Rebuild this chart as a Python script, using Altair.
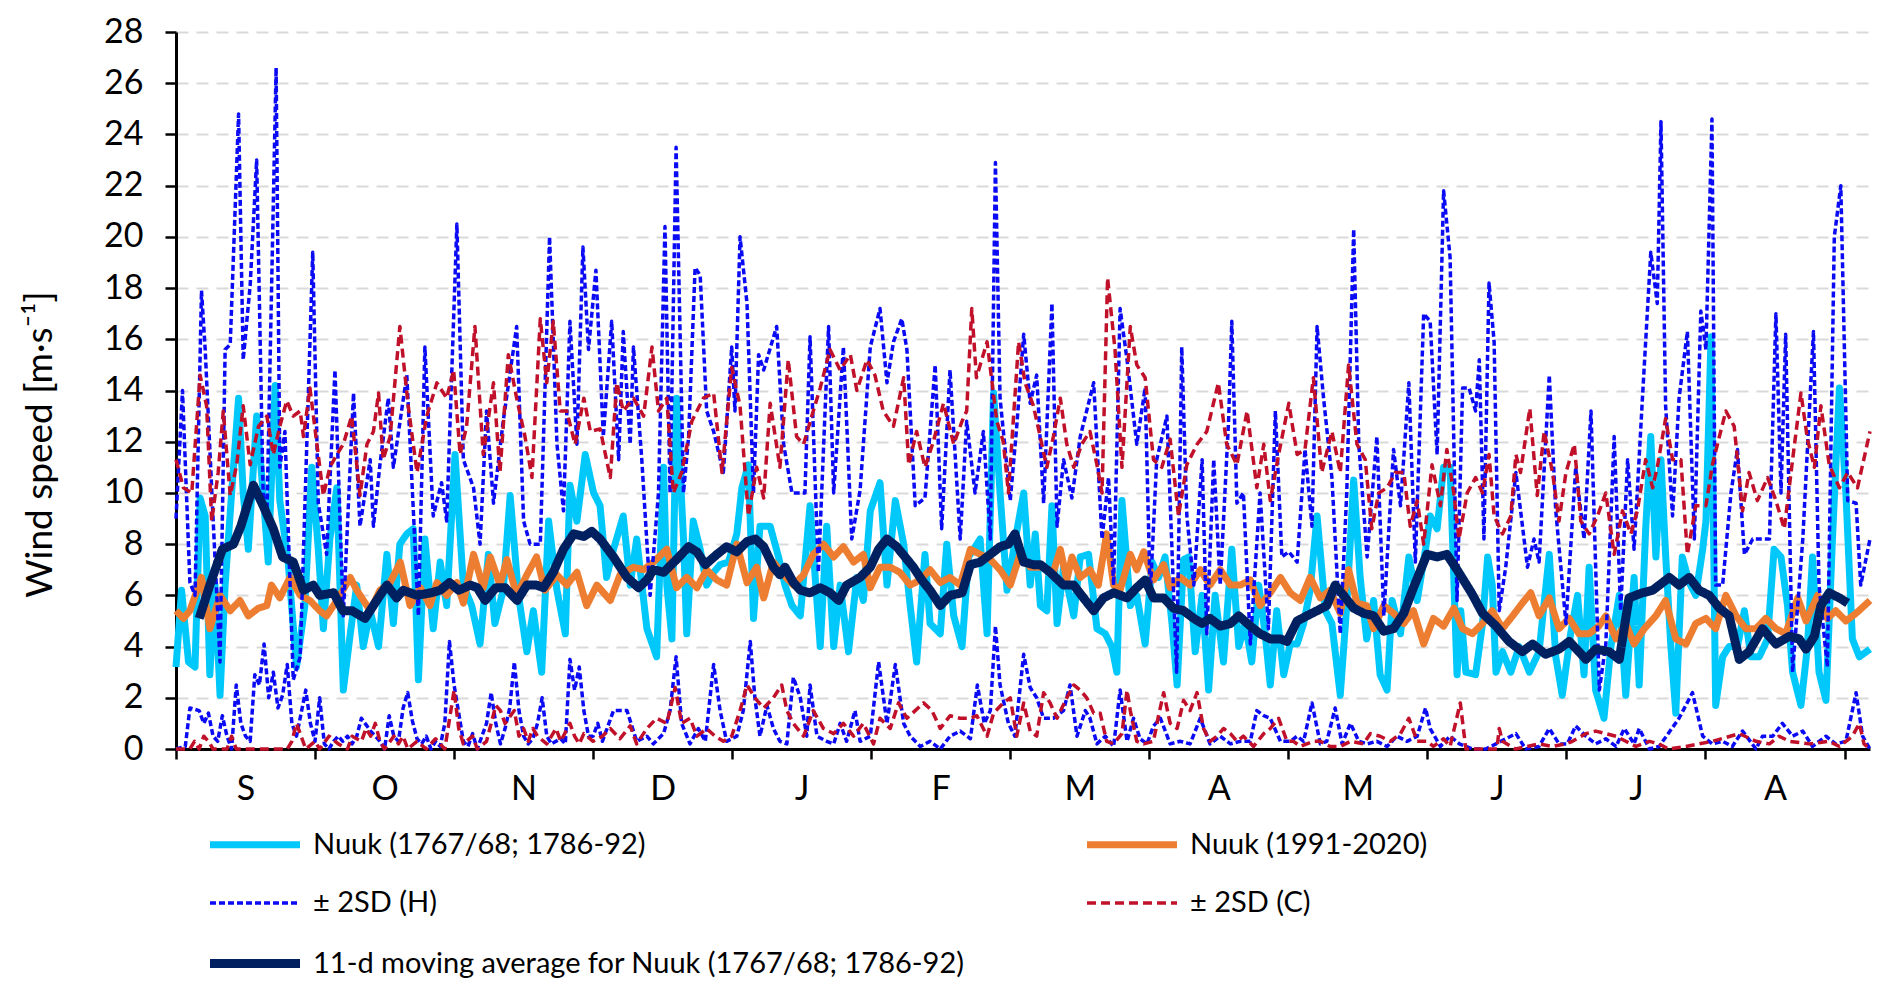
import altair as alt
import pandas as pd

SERIES = ["Nuuk (1767/68; 1786-92)", "Nuuk (1991-2020)", "± 2SD (H)", "± 2SD (C)",
          "11-d moving average for Nuuk (1767/68; 1786-92)"]
COLORS = ["#00C8FA", "#ED7D31", "#0A0AF5", "#C0102A", "#002060"]
DASHES = [[1, 0], [1, 0], [6, 3], [9, 5], [1, 0]]
WIDTHS = [7, 7, 3.5, 3.5, 9]
LEGEND_ORDER = [0, 2, 4, 1, 3]   # two columns, filled column by column
MONTHS = ["S", "O", "N", "D", "J", "F", "M", "A", "M", "J", "J", "A"]
Y_TICKS = list(range(0, 29, 2))
X_TICKS = list(range(0, 361, 15))

# Nuuk (1767/68; 1786-92): (day, wind speed)
HIST = [(0,3.2),(1.2,6.2),(2.7,3.4),(4.1,3.2),(5.2,9.8),(6.3,9.1),(7.3,2.9),(8.4,6.4),(9.5,2.1),(10.6,6.4),
        (12,10.0),(13.5,13.7),(14.5,10.0),(15.6,7.8),(17.4,13.0),(18.8,10.0),(19.9,7.3),(21.4,14.2),(22.4,9.7),
        (24.2,7.3),(26,3.2),(27.8,5.6),(29.3,11.0),(30.7,7.8),(31.8,4.7),(33.2,8.2),(34.7,10.2),(36.1,2.3),
        (37.6,4.5),(39,6.4),(40.4,4.0),(41.9,5.4),(43.7,4.0),(45.5,7.6),(46.9,4.9),(48.3,8.0),(49.8,8.4),
        (51.2,8.6),(52.3,2.7),(53.7,8.2),(55.5,4.7),(57,7.3),(58.4,5.6),(60.2,11.5),(62,6.4),(63.8,5.6),
        (65.6,4.1),(67.4,7.6),(68.8,4.9),(70.6,6.2),(72.1,9.9),(73.9,6.0),(75.7,3.8),(77.1,5.4),(78.9,3.0),
        (80.4,8.9),(82.2,6.2),(84,4.5),(85,10.3),(86.5,8.9),(88.3,11.5),(90.1,10.0),(91.5,9.5),(92.9,6.7),
        (94.4,7.8),(96.5,9.1),(98,6.4),(99.4,8.2),(101.6,4.7),(103.7,3.6),(105.2,11.0),(105.9,6.4),(107,4.3),
        (108,13.7),(109.5,8.2),(110.2,4.5),(111.6,8.9),(113.1,7.8),(114.5,6.4),(116,6.9),(117.4,7.2),(119.2,7.3),
        (121,8.4),(122.1,10.2),(123.5,11.1),(124.6,5.1),(126,8.7),(128.2,8.7),(130,7.5),(131.4,6.4),(132.9,5.6),
        (134.7,5.2),(136.8,9.5),(139,4.0),(140.4,8.7),(141.9,4.0),(143.3,6.4),(145.1,3.8),(146.9,6.7),(148.3,5.8),
        (149.8,9.3),(151.9,10.4),(153.4,6.4),(155.2,9.7),(157,8.0),(158.4,5.6),(159.8,3.4),(161.6,7.6),(162.7,4.9),
        (164.9,4.5),(166.3,8.0),(167.8,5.2),(169.6,4.0),(171,7.5),(173.5,8.2),(175,4.5),(176.4,13.9),(177.8,10.0),
        (179.3,6.2),(181.1,8.2),(182.9,10.0),(184.3,6.4),(185.4,8.4),(186.5,5.6),(187.9,5.4),(189,9.5),(190.1,4.9),
        (191.5,7.1),(193.7,5.2),(195.1,7.5),(196.9,7.6),(198.7,4.7),(200.5,4.5),(201.9,4.0),(203,3.0),(204.1,9.7),
        (205.9,5.6),(207.3,6.0),(209.1,4.1),(210.6,7.3),(212,6.7),(213.4,7.5),(214.9,4.9),(216,2.5),(217.4,7.4),
        (218.5,7.5),(219.9,3.8),(221.4,6.0),(222.8,2.3),(224.2,6.0),(226,3.4),(227.8,7.8),(229.3,4.0),(230.7,4.9),
        (232.1,3.4),(233.6,6.4),(235,4.5),(236.1,2.5),(237.5,5.4),(239,2.9),(240.4,4.1),(241.9,4.1),(243.3,4.9),
        (244.7,6.2),(246.2,9.1),(248,5.4),(249.4,4.9),(251.2,2.1),(252.6,5.6),(254.1,10.5),(255.5,6.7),(256.9,4.3),
        (258.4,5.8),(259.8,2.9),(261.3,2.3),(262.4,5.8),(264.2,4.5),(266,7.5),(267.8,5.8),(269.6,7.8),(270.6,9.1),
        (272.1,8.6),(273.5,11.0),(274.9,11.0),(276.4,2.9),(277.2,5.4),(278.3,3.0),(280.4,2.9),(281.9,4.9),(283,7.5),
        (284,6.4),(284.8,3.0),(286.2,3.8),(288,3.0),(289.8,4.0),(292,3.0),(294.1,3.8),(296.3,7.6),(297.7,3.6),
        (299.1,2.1),(300.9,4.5),(302.4,6.0),(303.8,2.9),(304.9,7.1),(306.3,2.3),(308.1,1.2),(309.6,4.0),(311.4,6.0),
        (312.8,2.1),(314.6,6.7),(315.7,2.5),(317.1,8.6),(318.2,12.2),(319.3,7.5),(320.4,11.3),(321.4,7.6),(322.5,4.1),
        (323.6,1.4),(325,7.5),(326.5,6.5),(327.9,6.0),(329.4,7.8),(330.1,8.9),(331.2,16.1),(332.2,1.7),(333.7,3.6),
        (335.1,4.0),(336.9,4.0),(338.4,5.4),(339.8,3.6),(341.6,3.6),(343.4,4.3),(344.8,7.8),(346.3,7.5),(347.7,5.6),
        (348.8,3.0),(350.6,1.7),(352,4.0),(353.1,7.5),(354.5,3.0),(356,1.9),(357.4,8.2),(358.9,14.1),(360.3,10.0),
        (361.7,4.3),(363.2,3.6),(365.5,3.9)]

# Nuuk (1991-2020)
MODERN = [(0,5.4),(1.6,5.1),(3,5.4),(5.5,6.7),(7.3,4.7),(9.5,6.0),(11.7,5.4),(13.8,5.8),(15.6,5.2),(17.8,5.5),
          (19.6,5.6),(20.6,6.4),(22.4,5.9),(24.6,6.7),(26.8,6.0),(28.9,5.8),(31,5.4),(32.5,5.2),(34.7,5.8),
          (37.6,6.7),(39,6.2),(41.9,5.4),(44,6.2),(46.2,6.5),(48.4,7.3),(50.5,5.6),(52.7,6.3),(54.8,5.6),(56.3,6.5),
          (58.4,6.0),(60.6,6.5),(62,5.7),(64.2,7.6),(66.3,6.3),(67.8,7.5),(69.9,6.4),(71.4,7.4),(73.5,6.0),(75.7,6.8),
          (77.8,7.5),(79.6,6.2),(82.2,6.8),(84.3,6.4),(86.5,6.9),(88.6,5.6),(90.8,6.4),(93.7,5.8),(95.8,6.8),
          (98.7,7.1),(100.9,7.0),(103,7.3),(105.9,7.8),(108,6.3),(110.2,6.7),(112.4,6.3),(114.5,7.0),(116.7,6.6),
          (118.8,6.4),(121,8.0),(123.2,6.5),(125.3,7.1),(126.8,5.9),(128.9,7.3),(131.1,6.8),(133.2,6.4),(135.4,6.8),
          (137.5,7.6),(139.7,8.0),(141.9,7.5),(144,7.9),(146.2,7.3),(148.3,7.6),(149.8,6.3),(151.9,7.1),(154.1,7.1),
          (156.2,6.9),(158.4,6.4),(160.6,6.6),(162.7,7.0),(164.9,6.5),(167,6.7),(169.2,6.4),(171.4,7.8),(173.5,7.6),
          (175.7,7.4),(177.8,7.0),(180,6.4),(182.1,7.6),(184.3,7.1),(187.2,7.1),(189.3,6.9),(190.8,7.8),(192.2,6.6),
          (193.3,7.5),(195.1,6.7),(197.2,7.0),(199,6.4),(200.8,8.4),(202.3,6.4),(203.7,6.2),(205.9,7.6),(207.3,7.0),
          (208.8,7.7),(210.9,6.6),(213.1,7.2),(214.5,6.3),(216.7,6.7),(218.8,6.4),(221,7.0),(223.1,6.4),(225.3,7.0),
          (227.5,6.4),(229.6,6.4),(231.8,6.6),(233.9,5.6),(236.1,6.1),(238.3,6.7),(240.4,6.1),(242.6,5.8),(244.7,6.7),
          (246.9,5.9),(249,6.2),(251.2,5.3),(253,7.0),(254.8,5.7),(256.9,5.6),(258.4,4.7),(260.6,5.6),(262.7,5.3),
          (264.9,4.9),(267,5.4),(269.2,4.1),(271.3,5.1),(273.5,4.8),(275.7,5.5),(277.6,4.7),(279.7,4.5),(281.9,4.9),
          (284,5.4),(286.2,4.7),(288.4,5.2),(290.5,5.7),(292.3,6.1),(294.1,5.2),(296.3,5.9),(298.4,4.7),(300.6,5.1),
          (302.7,4.5),(304.9,4.5),(307,4.8),(308.5,5.2),(310.7,4.3),(312.8,4.9),(314.6,4.1),(316.8,4.7),(319.3,5.2),
          (321.4,5.8),(323.6,4.3),(325.8,4.1),(327.9,4.9),(330.1,5.1),(332.2,4.7),(334.4,6.0),(336.6,5.2),(338.7,4.7),
          (340.9,4.7),(343,5.1),(345.2,4.7),(347.3,4.5),(349.9,5.9),(351.7,5.0),(354.2,6.0),(356.3,5.1),(358.1,5.4),
          (360.3,5.0),(362.5,5.3),(365.5,5.8)]

# 11-d moving average for Nuuk (1767/68; 1786-92)
MOVAVG = [(5,5.1),(7.3,6.4),(10,7.8),(12.4,8.0),(14,8.7),(16.7,10.3),(18.8,9.5),(21,8.6),(23,7.5),(25.3,7.3),
          (27.5,6.2),(29.6,6.4),(31,6.0),(34,6.1),(36,5.4),(38,5.4),(40.8,5.1),(43.3,5.8),(45.5,6.4),(47.6,5.9),
          (49,6.2),(52,6.0),(55,6.1),(57,6.2),(59,6.5),(61,6.2),(63.5,6.4),(65,6.3),(66.7,5.8),(69,6.3),(71,6.3),
          (73.6,5.8),(75.7,6.4),(77.8,6.4),(79.3,6.3),(81.4,6.9),(83.6,7.8),(85.8,8.4),(88,8.3),(89.7,8.5),(91.5,8.2),
          (94.4,7.5),(97.3,6.7),(99.8,6.3),(101.6,6.6),(103,7.0),(105.2,6.9),(108,7.4),(110.6,7.9),(112.4,7.7),
          (114.2,7.2),(116.7,7.6),(118.8,7.9),(121,7.7),(123.2,8.1),(125,8.2),(126.8,7.9),(128.9,7.1),(130.3,6.8),
          (131.4,7.1),(133.2,6.5),(134.7,6.2),(136.8,6.1),(139,6.3),(141.1,6.1),(143,5.8),(144.7,6.4),(147.6,6.7),
          (149.8,7.1),(151.6,7.8),(153.4,8.2),(155.5,7.9),(157.3,7.5),(159.1,7.1),(160.9,6.6),(162.7,6.2),(164.9,5.6),
          (167,6.0),(169.6,6.1),(171.4,7.2),(173.5,7.3),(175.7,7.6),(177.8,7.9),(179.6,8.0),(181,8.4),(182.9,7.3),
          (185,7.2),(186.5,7.2),(188.6,6.9),(191.5,6.4),(193.7,6.4),(195.8,5.9),(198,5.4),(200.1,5.9),(202.3,6.1),
          (205.2,5.9),(207.3,6.3),(209.1,6.6),(210.9,5.9),(213.1,5.9),(215.2,5.5),(217.4,5.4),(219.6,5.1),(221.4,4.9),
          (223.1,5.1),(225.3,4.8),(227.5,4.9),(229.3,5.2),(231.8,4.8),(233.9,4.5),(236.1,4.3),(238.3,4.3),(239.7,4.2),
          (241.9,5.0),(244,5.2),(246.2,5.4),(248.3,5.6),(250.1,6.4),(251.9,6.0),(254.1,5.5),(256.2,5.3),(258.4,5.2),
          (260.6,4.6),(262.7,4.7),(264.9,5.3),(267,6.3),(269.9,7.6),(272.1,7.5),(274.2,7.6),(276.4,7.0),(279.5,6.1),
          (281.9,5.3),(284.8,4.8),(287.6,4.2),(290.5,3.8),(292.7,4.1),(295.5,3.7),(298.4,3.9),(300.6,4.2),(302.7,3.8),
          (304.2,3.5),(306.3,3.9),(309.2,3.8),(311.4,3.5),(313.5,5.9),(316.4,6.1),(318.6,6.2),(322.2,6.7),(324.3,6.4),
          (326.5,6.7),(328.6,6.2),(330.8,6.0),(333,5.5),(335.1,5.2),(337.3,3.5),(339.4,3.8),(342.3,4.7),(345.2,4.1),
          (348.1,4.4),(350.2,4.3),(351.7,3.9),(353.5,4.4),(354.9,5.6),(356.7,6.1),(358.9,5.9),(360.7,5.7)]

# ± 2SD (H): upper and lower envelopes
H_UPPER = [(0,9.0),(1.4,14.0),(3,6.5),(4.1,6.0),(5.5,17.9),(6.3,15.6),(8,9.0),(9.5,3.4),(10.6,15.6),(11.7,15.8),
           (13.5,24.8),(14.5,15.2),(16,18.1),(17.4,23.0),(18.8,10.0),(19.6,9.0),(21.6,26.6),(22.4,11.0),(23.5,12.4),
           (25.3,2.7),(26.8,3.6),(29.5,19.4),(30.7,9.6),(32.5,7.6),(34.3,14.8),(36.1,5.2),(38.3,13.9),(39.7,8.7),
           (41.9,11.3),(42.6,8.7),(44,11.1),(45.8,13.7),(46.9,11.0),(49.8,14.6),(52.3,5.2),(53.7,15.7),(55.5,9.1),
           (57.3,10.4),(58.4,8.9),(60.6,20.5),(62,11.3),(64.2,10.2),(65.6,8.0),(67,13.2),(68.5,9.6),(70.6,12.8),
           (73.5,16.5),(75,8.9),(76.4,8.0),(78.6,8.0),(80.6,20.0),(82.2,11.9),(83.6,9.3),(85,16.7),(86.5,11.9),
           (87.8,19.6),(89,15.6),(90.6,18.7),(92.2,12.2),(94,16.7),(95.5,11.3),(96.5,16.3),(98,11.9),(98.7,15.7),
           (100.5,11.3),(102.3,6.0),(104.1,10.0),(105.5,20.4),(106.6,10.0),(107.9,23.5),(109.5,10.0),(110.6,12.2),
           (112,18.8),(113.1,18.5),(114.5,13.2),(116,12.4),(118.1,10.8),(119.9,15.7),(120.6,13.2),(121.7,20.0),
           (123.2,17.4),(124.6,10.0),(125.7,15.4),(126.8,14.8),(129.6,16.5),(131.1,11.9),(132.9,10.0),(135.7,10.0),
           (136.8,16.1),(138.6,6.9),(140.8,16.5),(141.9,10.0),(144,15.7),(145.8,8.2),(147.6,10.1),(149.8,15.7),
           (151.9,17.2),(153.4,14.3),(154.8,15.9),(156.6,16.8),(157.7,15.6),(159.5,9.5),(161.6,9.8),(163.8,15.0),
           (165.2,8.6),(167,14.8),(169.2,8.2),(170.6,12.8),(172.4,10.0),(174.2,12.4),(175.7,8.2),(176.8,22.9),
           (177.8,13.7),(180,9.7),(181.4,12.6),(182.9,16.2),(184.3,13.5),(185.7,14.6),(187.2,9.6),(189,17.4),
           (190.1,8.7),(191.5,11.3),(193.3,9.8),(195.1,12.2),(198,14.3),(199.8,8.2),(201.2,10.6),(202.3,6.4),
           (203.7,17.2),(205.2,15.2),(207.3,11.9),(209.1,14.1),(210.2,6.0),(211.6,11.3),(213.8,13.0),(215.9,3.0),
           (217,15.7),(218.1,9.1),(219.6,6.4),(221.4,11.3),(222.4,4.5),(223.9,11.3),(225.3,6.4),(227.1,12.8),
           (227.8,16.7),(228.9,9.6),(230.3,10.0),(231.8,4.1),(233.9,10.0),(235.7,4.7),(237.2,13.2),(238.6,7.5),
           (240.1,7.7),(241.9,7.3),(243.6,11.7),(245.1,8.7),(246.2,16.5),(247.6,13.7),(249.4,10.6),(251.2,4.5),
           (252.6,10.0),(254.1,20.3),(255.2,11.9),(257,7.5),(259.1,12.2),(260.6,5.2),(262.7,11.7),(264.2,9.5),
           (266,14.3),(267.4,7.3),(269.2,17.0),(270.6,16.7),(272.1,11.5),(273.5,21.8),(274.9,19.2),(276.4,5.8),
           (277.6,14.1),(279,14.1),(280.4,13.2),(281.2,15.2),(282.2,8.2),(283.3,18.2),(284.4,15.9),(285.5,5.4),
           (286.9,7.1),(289.1,10.8),(291.6,7.1),(293,8.2),(294.1,7.3),(296.3,14.6),(297.7,9.3),(299.9,4.9),(302,11.0),
           (303.8,8.2),(305.3,13.2),(307.1,2.3),(308.5,4.1),(310.3,12.2),(311.7,5.4),(313.2,11.3),(314.6,7.8),
           (316.4,13.7),(318.2,19.4),(319.6,17.4),(320.4,24.5),(321.4,13.4),(322.9,9.1),(324.3,13.7),(326.1,16.3),
           (327.6,8.2),(329,17.1),(330.1,15.6),(331.4,24.6),(332.2,6.4),(333.7,6.4),(335.5,10.0),(336.9,11.7),
           (338.4,7.6),(340.2,8.2),(342.3,8.2),(343.8,8.2),(345.2,17.0),(346.3,10.0),(347.3,16.2),(348.8,3.0),
           (351,8.2),(353.3,16.3),(354.5,6.4),(356.3,3.2),(357.8,20.0),(359.2,22.0),(360.7,9.7),(362.5,9.6),
           (363.5,6.4),(365.5,8.2)]
H_LOWER = [(0,0),(2,0.1),(3,1.6),(5,1.5),(6,1.0),(7,1.4),(8,0.5),(9,0.3),(10,1.3),(11,0.5),(12,0),(13,2.5),
           (14,1.0),(15,0.5),(16,0.3),(17,2.9),(18,2.5),(19,4.1),(20,2.0),(21,3.0),(22,1.6),(23,2.1),(24,3.3),
           (25,1.0),(26,0.5),(28,2.3),(29,1.0),(30,0.3),(31,2.0),(32,0.2),(33,0),(34,0.3),(35,0.5),(36,0.3),(37,0.5),
           (38,0.2),(39,0.5),(40,1.2),(42,0.7),(44,0.3),(45,0),(46,1.3),(47,0.5),(48,0.3),(49,1.6),(50,2.2),(51,1.1),
           (52,0.4),(53,0.2),(54,0.5),(55,0),(56,0.3),(57,0.1),(58,1.0),(59,4.2),(60,2.5),(61,1.4),(62,0.3),(63,0.1),
           (64,0.6),(65,0),(66,0.5),(67,1.0),(68,2.2),(69,1.0),(70,0.2),(71,0.8),(72,1.6),(73,3.4),(74,1.5),(75,0.5),
           (76,0.2),(77,0.4),(78,1.0),(79,2.0),(80,0.5),(81,0.2),(82,0.3),(83,0.4),(84,0.2),(85,3.5),(86,2.3),
           (87,3.2),(88,1.5),(89,0.5),(90,0.5),(91,1.0),(92,0.3),(94.4,1.5),(97.3,1.5),(99.4,0.3),(101.6,0.5),
           (103,0.2),(105.2,0.6),(106.6,1.5),(107.9,3.6),(109.1,1.0),(110.9,0.2),(112.7,0.8),(114.2,0.3),(116,3.3),
           (117.4,1.5),(118.8,0.3),(121,0.5),(122.4,1.5),(123.9,4.2),(124.9,2.0),(126,0.5),(127.5,1.7),(128.9,0.8),
           (130.3,0.3),(131.8,0.2),(133.2,2.8),(134.7,2.0),(136.1,0.5),(136.8,2.5),(138.3,0.5),(140.4,0.3),
           (141.9,0.2),(143.3,1.0),(144.7,0.3),(146.5,1.5),(147.6,0.3),(149.8,0.5),(151.6,3.4),(153.4,1.0),
           (155.2,3.3),(157,1.0),(158.4,0.5),(160.6,0.1),(162.7,0.3),(164.9,0),(167,0.5),(169.2,0.7),(171.4,0.4),
           (172.9,2.5),(174.4,1.0),(175.7,1.5),(176.8,4.8),(177.8,2.5),(179.6,1.0),(181,0.5),(182.9,3.7),(184.3,2.4),
           (185.7,2.0),(187.2,1.2),(189.3,1.2),(191.5,1.5),(192.9,2.5),(194.4,0.5),(196.2,1.5),(197.2,1.2),
           (198.7,0.2),(200.5,0.5),(202.3,0.1),(203.7,2.3),(205.2,0.3),(206.6,1.2),(208,0.4),(209.5,0.2),(210.9,0.9),
           (212.4,1.2),(214.5,0.2),(216.7,0.3),(218.8,0.2),(221,1.2),(223.1,0.2),(225.3,0.5),(227.5,0.2),(229.6,0.3),
           (231.8,0.3),(233.2,1.5),(234.7,1.3),(236.1,1.2),(238.3,0.3),(240.4,0.3),(241.9,0.5),(243.3,0.3),
           (245.1,1.8),(246.9,0.2),(248.3,0.3),(250.1,1.6),(251.6,0.2),(253.4,1.0),(255.2,0.3),(257,0.2),(259.1,0.3),
           (261.3,0.1),(263.4,0.5),(265.6,0.3),(267.8,0.5),(269.6,1.6),(270.6,0.8),(272.8,0.1),(274.9,0.5),
           (276.9,0.2),(279.7,0),(282.6,0),(284.8,0.2),(289.1,0.6),(291.2,0),(294.1,0.1),(296.3,0.8),(298.4,0.2),
           (300.2,0.2),(302,0.9),(304.2,0.5),(306.3,0.2),(308.5,0.4),(310.7,0.1),(312.5,0.8),(314.6,0.2),(315.7,0.8),
           (317.9,0),(320,0.1),(324.3,1.2),(327.2,2.2),(329.4,0.5),(331.5,0.2),(333.7,0.3),(335.8,0.1),(338,0.7),
           (340.9,0),(342.3,0.5),(344.5,0.5),(346.6,1.0),(348.8,0.5),(351,0.7),(353.1,0.1),(356,0.5),(358.1,0.2),
           (360.3,0.3),(362.5,2.2),(363.9,0.5),(365.5,0)]

# ± 2SD (C): upper and lower envelopes
C_UPPER = [(0,11.3),(1.6,10.2),(3.4,10.0),(5.2,14.6),(6.6,13.4),(7.7,8.9),(9.1,10.8),(10.2,13.2),(11.7,9.9),
           (13.1,11.1),(14.5,13.4),(16,11.1),(17.8,12.6),(19.6,13.0),(21,11.5),(22.4,12.6),(23.9,13.6),(25.3,13.0),
           (26.8,13.2),(27.5,12.2),(28.9,14.1),(30.4,11.9),(31.8,9.9),(33.2,11.0),(34.7,11.5),(36.1,11.9),(37.9,13.0),
           (39.7,9.9),(41.2,11.9),(42.6,12.4),(43.7,13.9),(44.7,11.3),(46.2,12.2),(48.3,16.5),(50.1,13.4),(52,10.8),
           (54.1,13.0),(56.3,14.3),(58.4,13.7),(59.9,14.8),(61.3,11.5),(62.7,12.6),(64.5,16.5),(66.3,11.5),(68.5,14.3),
           (69.9,10.8),(71.7,15.4),(73.5,13.7),(75.3,12.2),(76.8,10.6),(78.6,16.8),(80,14.3),(81.4,16.7),(82.9,13.2),
           (84.3,13.2),(86.1,11.9),(88,13.7),(89.4,12.4),(91.5,12.5),(93.7,10.6),(95.1,14.3),(96.5,13.2),(98.7,13.7),
           (100.9,13.0),(102.7,15.7),(104.1,13.2),(105.9,13.7),(107.3,10.0),(109.1,10.8),(111.3,12.8),(113.8,13.7),
           (116,13.9),(117.8,10.8),(119.9,14.9),(121.7,13.4),(123.5,9.1),(125.3,11.0),(126.8,9.8),(128.2,13.5),
           (130.3,11.0),(132.1,15.2),(133.9,12.2),(135.4,11.9),(137.5,13.2),(139,14.1),(141.1,15.6),(143.3,14.8),
           (145.5,15.4),(146.9,14.0),(149.1,15.2),(150.8,14.6),(152.6,13.2),(154.8,12.6),(157,14.5),(158.1,11.1),
           (159.8,12.4),(161.6,11.0),(163.4,12.0),(165.6,13.5),(167.8,11.9),(169.6,12.8),(170.6,13.2),(171.7,17.2),
           (172.7,14.5),(175,15.9),(177.1,12.8),(178.5,12.0),(179.6,10.0),(181.8,15.9),(183.2,14.3),(185,13.4),
           (187.9,11.0),(189.3,12.2),(190.8,13.7),(192.2,11.9),(193.7,11.0),(195.4,11.9),(197.2,12.4),(198.7,11.1),
           (199.8,10.0),(201,18.4),(202.6,15.6),(204.1,11.0),(205.9,16.5),(207.3,15.0),(209.1,14.5),(210.9,11.3),
           (212.7,11.0),(214.5,12.1),(216.3,9.1),(218.1,11.1),(220.3,11.9),(222.4,12.4),(224.9,14.3),(226.7,11.9),
           (228.9,11.1),(231.1,13.2),(233.2,10.2),(234.7,11.9),(236.1,9.7),(237.9,11.5),(240.1,13.5),(241.9,11.5),
           (243.6,11.7),(245.4,14.5),(247.2,10.8),(249.4,12.4),(251.2,10.8),(253,15.0),(254.8,11.9),(256.6,11.3),
           (258,8.6),(259.5,10.0),(261.3,10.2),(263.1,10.8),(264.9,10.8),(266.3,8.7),(267.8,9.7),(269.2,8.0),
           (271,11.1),(272.8,9.5),(274.2,11.7),(275.7,10.0),(276.8,8.2),(278.6,10.0),(280.4,10.6),(281.9,10.0),
           (283.3,11.5),(284.4,9.1),(286.2,8.4),(288,9.1),(289.1,11.5),(290.1,10.8),(292.1,13.3),(293.7,9.9),
           (295.2,12.4),(297,10.8),(298.4,8.9),(299.9,10.8),(301.7,11.9),(303.1,8.9),(304.9,8.4),(306.7,9.1),
           (308.5,10.0),(310.3,7.6),(312.1,9.3),(313.9,8.4),(315.3,9.3),(317.1,11.3),(318.6,10.2),(319.6,11.0),
           (321.4,12.9),(322.9,11.3),(324.7,11.3),(326.1,7.6),(327.9,9.5),(330.1,9.5),(331.5,11.1),(333,12.2),
           (334.4,13.2),(336.2,12.6),(338,9.3),(339.4,10.8),(341.2,9.7),(343.4,10.6),(345.2,9.7),(347,8.6),
           (348.8,11.3),(350.6,13.9),(352,12.1),(353.5,11.0),(354.9,13.4),(356.7,11.1),(358.9,10.2),(360.7,10.8),
           (362.8,10.2),(365.5,12.4)]
C_LOWER = [(0,0),(3,0),(4,0.3),(5,0),(6,0.5),(7,0.3),(8,0),(11,0),(12,0.5),(13,0),(24,0),(25,0.3),(26,1.0),
           (27,0.5),(28,0),(30,0.3),(31,0),(33,0.5),(35,0.2),(37,0),(38,0.5),(40,0.3),(41,0.8),(42,0.5),(43,1.0),
           (44,0.3),(45,0),(47,0.5),(48,0.2),(49,0.5),(50,0),(52,0.3),(54,0),(56,0.4),(58,0),(60,2.3),(61,0.8),
           (62,0.2),(64,0.5),(65,0),(67,0.3),(69,1.7),(70,1.5),(71,1.0),(73,1.5),(74,0.5),(75,0.8),(76,0.3),(77,0.8),
           (78,0.5),(80,0.2),(82,0.8),(83,0.3),(85,1.0),(86,0.5),(87,0.2),(88,0.6),(90,0.3),(92,0.5),(93.7,0.8),
           (95.8,0.4),(98,0.9),(99.4,0.2),(101.6,0.8),(103.7,1.2),(105.9,1.0),(107.7,2.4),(109.1,1.0),(110.9,1.2),
           (112.4,0.5),(114.5,0.8),(116.3,0.5),(118.1,0.3),(119.9,0.5),(121.7,1.5),(123.2,2.5),(124.9,2.0),
           (126.8,1.6),(128.9,2.0),(130.7,2.5),(131.8,1.5),(133.2,1.0),(135.4,0.5),(137.5,1.5),(139.7,0.8),
           (141.9,0.6),(144,1.0),(146.2,0.5),(148.3,1.0),(150.5,0.2),(151.9,1.2),(154.1,0.8),(155.9,1.8),(157.7,1.2),
           (159.5,1.5),(161.3,1.8),(163.1,1.5),(164.9,0.8),(167,1.3),(169.2,1.2),(171.4,1.2),(172.8,1.3),(175,0.5),
           (176.4,1.4),(178.5,1.8),(180,2.0),(181.4,0.5),(182.9,1.8),(184.3,0.7),(185.7,0.5),(187.2,2.2),(188.6,1.8),
           (190.1,1.2),(192.2,2.0),(193.7,2.5),(195.1,2.3),(196.5,2.0),(198,1.4),(199.4,1.4),(200.8,0.3),(202.3,0.2),
           (204.1,0.6),(205.2,2.3),(205.9,1.5),(207.3,0.3),(208.8,0.2),(210.9,0.3),(212,1.3),(213.1,2.2),(214.5,1.0),
           (216,0.8),(217.4,1.9),(218.8,1.5),(220.3,2.2),(221.7,0.8),(223.1,0.3),(224.6,0.5),(226,0.8),(227.5,0.6),
           (228.9,0.3),(230.3,0.5),(232.5,0.1),(234.7,0.6),(236.1,0.8),(237.9,1.2),(239.7,0.3),(241.1,0.3),
           (242.6,0.1),(245.4,0.3),(246.9,0.3),(249,0.1),(251.2,0.1),(253.4,0.3),(256.2,0.2),(257.7,0.6),(259.8,0.5),
           (262,0.3),(264.2,0.6),(266,1.2),(267.8,0.3),(269.9,0.3),(271.3,0.1),(273.5,0.4),(274.9,0.1),(277.1,1.8),
           (278.3,0),(285,0),(285.5,0.8),(286.2,0.3),(289,0),(294.1,0.2),(297,0.1),(299.9,0.2),(301.3,0.3),
           (304.2,0.6),(306.3,0.7),(308.5,0.6),(310.7,0.5),(312.8,0.3),(315,0.1),(317.9,0.3),(320,0.2),(322,0),
           (325.8,0.1),(331.5,0.3),(337.3,0.6),(340.9,0.3),(343.8,0.2),(345.9,0.5),(348.1,0.3),(352.4,0.2),
           (356.7,0.3),(358.9,0.1),(361.7,0.5),(363.2,1.0),(364.2,0.2),(365.5,0)]

rows = []
for pairs, s, part in [(HIST, 0, "a"), (MODERN, 1, "a"), (H_UPPER, 2, "up"), (H_LOWER, 2, "lo"),
                       (C_UPPER, 3, "up"), (C_LOWER, 3, "lo"), (MOVAVG, 4, "a")]:
    for d, v in pairs:
        rows.append({"day": d, "value": v, "series": SERIES[s], "part": part})
df = pd.DataFrame(rows)

dom = [SERIES[i] for i in LEGEND_ORDER]
col_range = [COLORS[i] for i in LEGEND_ORDER]
dash_range = [DASHES[i] for i in LEGEND_ORDER]
width_range = [WIDTHS[i] for i in LEGEND_ORDER]

FONT = "Lato"
month_expr = "datum.value % 30 === 15 ? " + str(MONTHS) + "[floor(datum.value / 30)] : ''"

x_enc = alt.X("day:Q", scale=alt.Scale(domain=[0, 365.5], nice=False, zero=False),
              axis=alt.Axis(values=X_TICKS, title=None, labelExpr=month_expr,
                            tickOpacity={"condition": {"test": "datum.value % 30 === 0", "value": 1}, "value": 0},
                            tickSize=10, tickWidth=2.5, tickColor="black", domainColor="black", domainWidth=3,
                            labelFont=FONT, labelFontSize=34, labelColor="black", labelPadding=13,
                            labelOverlap=False, labelFlush=False, labelBound=False, grid=False))
y_enc = alt.Y("value:Q", scale=alt.Scale(domain=[0, 28], nice=False),
              axis=alt.Axis(values=Y_TICKS, title="Wind speed [m·s⁻¹]", titleFont=FONT, titleFontSize=37,
                            titleFontWeight="normal", titleColor="black", titleX=-136, titleY=412,
                            titleAngle=270, titleAlign="center", titleBaseline="middle",
                            labelFont=FONT, labelFontSize=34, labelColor="black", labelPadding=22,
                            tickSize=11, tickWidth=2.5, tickColor="black", domainColor="black", domainWidth=3,
                            grid=True, gridColor="#D9D9D9", gridDash=[12, 8], gridWidth=2))
color_enc = alt.Color("series:N", scale=alt.Scale(domain=dom, range=col_range),
                      legend=alt.Legend(title=None, orient="none", legendX=29.5, legendY=794,
                                        columns=2, columnPadding=107, rowPadding=26, padding=0,
                                        symbolType="M-1,0H5", symbolSize=900, labelOffset=68.5,
                                        labelFont=FONT, labelFontSize=29, labelColor="black",
                                        labelLimit=0, symbolOpacity=1))
dash_enc = alt.StrokeDash("series:N", scale=alt.Scale(domain=dom, range=dash_range), legend=alt.Legend(title=None))
width_enc = alt.StrokeWidth("series:N", scale=alt.Scale(type="ordinal", domain=dom, range=width_range),
                            legend=alt.Legend(title=None))

base = alt.Chart(df).mark_line(strokeJoin="round", strokeCap="butt", clip=False)


def layer(i):
    return base.transform_filter(alt.datum.series == SERIES[i]).encode(
        x=x_enc, y=y_enc, color=color_enc, strokeDash=dash_enc, strokeWidth=width_enc,
        detail="part:N", order="day:Q")


chart = alt.layer(layer(0), layer(1), layer(2), layer(3), layer(4)).properties(
    width=1694, height=717,
    autosize=alt.AutoSizeParams(type="none"),
    padding={"left": 168, "top": 24, "right": 14, "bottom": 230},
    background="white",
).configure_view(stroke=None)

chart.save("out.html", embed_options={"renderer": "svg", "actions": False})
